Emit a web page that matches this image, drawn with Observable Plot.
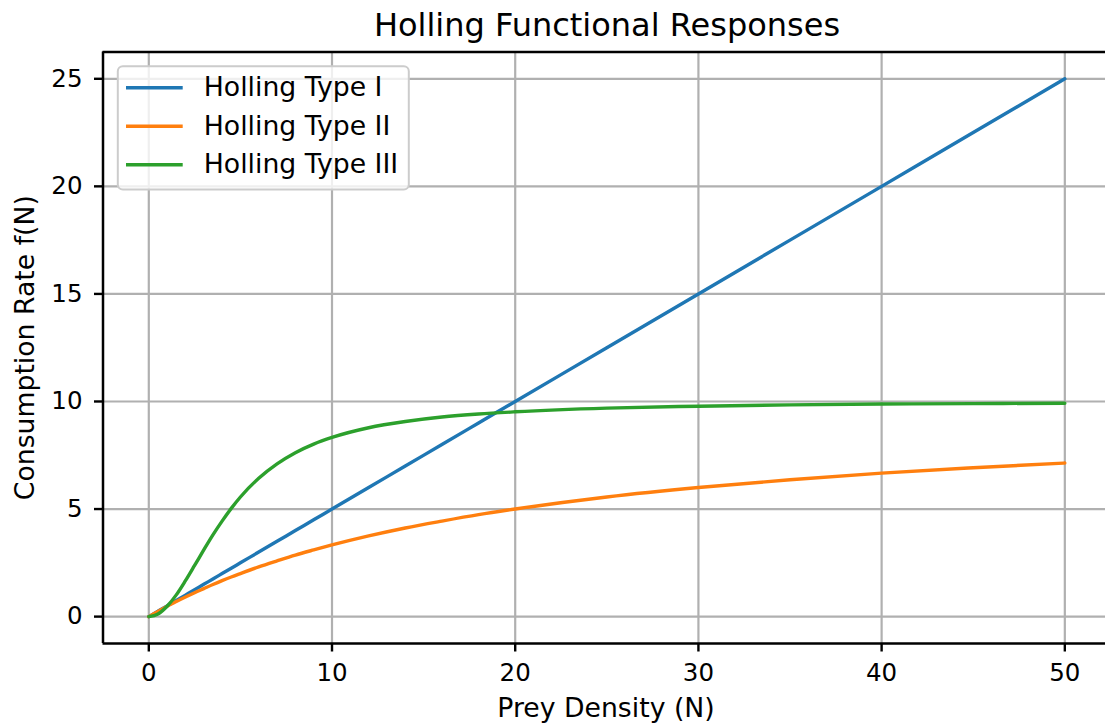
<!DOCTYPE html>
<html><head><meta charset="utf-8">
<script src="https://cdn.jsdelivr.net/npm/d3@7"></script>
<script src="https://cdn.jsdelivr.net/npm/@observablehq/plot@0.6"></script>
<style>body{margin:0;background:#fff;} svg{display:block}</style>
</head><body><div id="chart"></div>
<script>
// ---- data ----
const N       = [0, 0.5, 1, 1.5, 2, 2.5, 3, 3.5, 4, 4.5, 5, 6, 7, 8, 9, 10, 12, 14, 16, 18, 20, 25, 30, 35, 40, 45, 50];
const typeI   = [0, 0.25, 0.5, 0.75, 1, 1.25, 1.5, 1.75, 2, 2.25, 2.5, 3, 3.5, 4, 4.5, 5, 6, 7, 8, 9, 10, 12.5, 15, 17.5, 20, 22.5, 25];
const typeII  = [0, 0.24, 0.48, 0.70, 0.91, 1.11, 1.30, 1.49, 1.67, 1.84, 2.00, 2.31, 2.59, 2.86, 3.10, 3.33, 3.75, 4.12, 4.44, 4.74, 5.00, 5.56, 6.00, 6.36, 6.67, 6.92, 7.14];
const typeIII = [0, 0.12, 0.48, 1.01, 1.67, 2.38, 3.10, 3.80, 4.44, 5.03, 5.56, 6.43, 7.10, 7.62, 8.02, 8.33, 8.78, 9.07, 9.28, 9.42, 9.52, 9.69, 9.78, 9.84, 9.88, 9.90, 9.92];
const seriesNames  = ["Holling Type I", "Holling Type II", "Holling Type III"];
const seriesColors = ["#1f77b4", "#ff7f0e", "#2ca02c"];
const xTicks = [0, 10, 20, 30, 40, 50];
const yTicks = [0, 5, 10, 15, 20, 25];
const titleText = "Holling Functional Responses";
const xLabel = "Prey Density (N)";
const yLabel = "Consumption Rate f(N)";

// ---- layout ----
const W = 1105, H = 724;
const mL = 102.5, mR = 0, mT = 51.4, mB = 81;
const xDomain = [-2.5, 52.22];
const yDomain = [-1.25, 26.25];
const FONT = "DejaVu Sans";

const rows = [];
[typeI, typeII, typeIII].forEach((vals, s) =>
  vals.forEach((v, i) => rows.push({N: N[i], f: v, series: seriesNames[s]})));

// pixel -> data helpers for placing the in-plot legend
const px2x = d3.scaleLinear().domain([mL, W - mR]).range(xDomain);
const px2y = d3.scaleLinear().domain([H - mB, mT]).range(yDomain);
const legend = seriesNames.map((name, i) => ({name, y: px2y(87.3 + i * 38.5)}));

const chart = Plot.plot({
  width: W, height: H,
  marginLeft: mL, marginRight: mR, marginTop: mT, marginBottom: mB,
  style: {fontFamily: FONT, color: "black", background: "white", overflow: "visible"},
  x: {domain: xDomain, label: null},
  y: {domain: yDomain, label: null},
  color: {domain: seriesNames, range: seriesColors},
  marks: [
    Plot.gridX(xTicks, {stroke: "#b0b0b0", strokeOpacity: 1, strokeWidth: 2.2}),
    Plot.gridY(yTicks, {stroke: "#b0b0b0", strokeOpacity: 1, strokeWidth: 2.2}),
    Plot.line(rows, {x: "N", y: "f", z: "series", stroke: "series", strokeWidth: 3.4, curve: "monotone-x"}),
    // legend box
    Plot.frame({insetLeft: 117.3 - mL, insetTop: 65.7 - mT, insetRight: (W - mR) - 408.3, insetBottom: (H - mB) - 189,
                rx: 5, fill: "white", fillOpacity: 0.8, stroke: "#cccccc", strokeWidth: 2}),
    Plot.ruleY(legend, {y: "y", x1: px2x(126), x2: px2x(182.7), stroke: "name", strokeWidth: 3.4}),
    Plot.text(legend, {x: px2x(203.3), y: "y", text: "name", textAnchor: "start", fontSize: 26.7, fill: "black"}),
    // spines
    Plot.ruleX([xDomain[0]], {stroke: "black", strokeWidth: 2.5}),
    Plot.ruleY([yDomain[0], yDomain[1]], {stroke: "black", strokeWidth: 2.5}),
    // axes
    Plot.axisX({ticks: xTicks, tickSize: 8.5, tickPadding: 11.5, fontSize: 24.5, strokeWidth: 2.4, label: null}),
    Plot.axisY({ticks: yTicks, tickSize: 8.5, tickPadding: 12, fontSize: 24.5, strokeWidth: 2.4, label: null}),
    // texts
    Plot.text([titleText], {frameAnchor: "top", text: d => d, dx: 2.75, dy: -16.4, lineAnchor: "bottom", textAnchor: "middle", fontSize: 32, fill: "black"}),
    Plot.text([xLabel], {frameAnchor: "bottom", text: d => d, dx: 1.75, dy: 73, lineAnchor: "bottom", textAnchor: "middle", fontSize: 26.7, fill: "black"}),
    Plot.text([yLabel], {frameAnchor: "left", text: d => d, dx: 33.3 - mL, dy: 0, rotate: -90, lineAnchor: "bottom", textAnchor: "middle", fontSize: 26.7, fill: "black"})
  ]
});
document.getElementById("chart").appendChild(chart);
</script>
</body></html>
